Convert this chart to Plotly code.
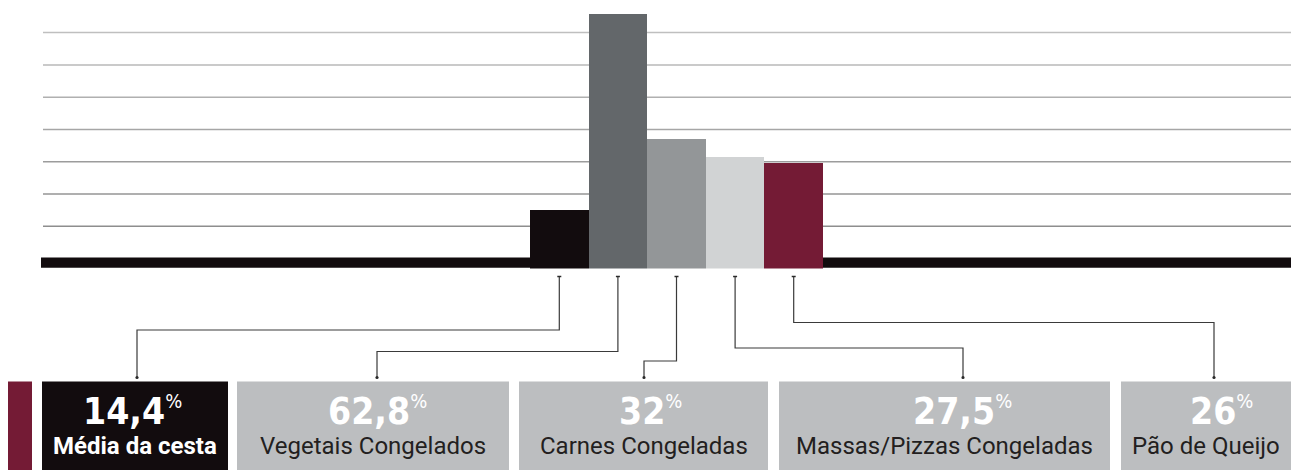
import plotly.graph_objects as go

# ---------------- data ----------------
categories = ["Média da cesta", "Vegetais Congelados", "Carnes Congeladas",
              "Massas/Pizzas Congeladas", "Pão de Queijo"]
values = [14.4, 62.8, 32.0, 27.5, 26.0]
value_labels = ["14,4", "62,8", "32", "27,5", "26"]
bar_colors = ["#120c0e", "#63676a", "#939698", "#d1d3d4", "#741b35"]

# ---------------- layout constants (pixels) ----------------
W, H = 1291, 470


def px(x):
    return x / W


def py(y):
    return 1 - y / H


BAR_X0, BAR_X1 = 530, 823
ZERO_PY = 268.5
PX_PER_UNIT = 4.06
YMAX = ZERO_PY / PX_PER_UNIT
GRID_START, GRID_STEP, GRID_N = 10.4, 7.95, 7
GRID_COLORS = ["#8e8e8e", "#959595", "#9c9c9c", "#a6a6a6", "#b0b0b0", "#b8b8b8", "#bfbfbf"]

fig = go.Figure()
fig.add_trace(go.Bar(
    x=categories, y=values, marker=dict(color=bar_colors, line=dict(width=0)),
    width=1.0, hoverinfo="skip", showlegend=False,
))

shapes = []
# gridlines
for i in range(GRID_N):
    yv = GRID_START + i * GRID_STEP
    shapes.append(dict(type="line", xref="paper", yref="y", x0=px(43), x1=1, y0=yv, y1=yv,
                       line=dict(color=GRID_COLORS[i], width=1.5), layer="below"))
# thick baseline
shapes.append(dict(type="rect", xref="paper", yref="y", x0=px(41), x1=1,
                   y0=(ZERO_PY - 267.8) / PX_PER_UNIT, y1=(ZERO_PY - 257.5) / PX_PER_UNIT,
                   fillcolor="#120c0e", line=dict(width=0), layer="below"))

# connectors: bar center -> horizontal level -> target x on box
BW = (BAR_X1 - BAR_X0) / len(categories)
conn_levels = [330, 351.5, 361, 348, 322.5]
conn_targets = [137, 377, 644, 963, 1214]
CONN_TOP, CONN_BOTTOM = 276.5, 377.5
for i in range(len(categories)):
    cx = BAR_X0 + (i + 0.5) * BW
    lv = conn_levels[i]
    tx = conn_targets[i]
    path = (f"M {px(cx)} {py(CONN_TOP)} L {px(cx)} {py(lv)} "
            f"L {px(tx)} {py(lv)} L {px(tx)} {py(CONN_BOTTOM)}")
    shapes.append(dict(type="path", xref="paper", yref="paper", path=path,
                       line=dict(color="#3a3a3a", width=1.2)))
    # small top tick
    shapes.append(dict(type="line", xref="paper", yref="paper",
                       x0=px(cx - 2), x1=px(cx + 2), y0=py(CONN_TOP), y1=py(CONN_TOP),
                       line=dict(color="#2a2a2a", width=1.5)))
    # small dot at the bottom
    shapes.append(dict(type="circle", xref="paper", yref="paper",
                       x0=px(tx - 1.6), x1=px(tx + 1.6), y0=py(CONN_BOTTOM - 1.6),
                       y1=py(CONN_BOTTOM + 1.6), fillcolor="#2a2a2a", line=dict(width=0)))

# label boxes
BOX_TOP = 381.5
box_edges = [(42, 228), (237, 509), (519, 768), (779, 1110), (1121, 1291)]
box_fill = ["#120c0e", "#bcbec0", "#bcbec0", "#bcbec0", "#bcbec0"]
label_color = ["#ffffff", "#231f20", "#231f20", "#231f20", "#231f20"]
label_weight = ["bold", "normal", "normal", "normal", "normal"]
num_centers = [132, 377, 650, 962, 1221]

# maroon accent strip
shapes.append(dict(type="rect", xref="paper", yref="paper", x0=px(8), x1=px(32),
                   y0=0, y1=py(BOX_TOP), fillcolor="#741b35", line=dict(width=0)))

annotations = []
for i, (x0, x1) in enumerate(box_edges):
    shapes.append(dict(type="rect", xref="paper", yref="paper", x0=px(x0), x1=px(x1),
                       y0=0, y1=py(BOX_TOP), fillcolor=box_fill[i], line=dict(width=0)))
    annotations.append(dict(
        xref="paper", yref="paper", x=px(num_centers[i]), y=py(411), xanchor="center",
        yanchor="middle", showarrow=False,
        text=f"<b>{value_labels[i]}</b><sup><span style='font-size:20px'>%</span></sup>",
        font=dict(family="Liberation Sans Narrow, DejaVu Sans Condensed, sans-serif",
                  size=37, color="#ffffff")))
    lab = f"<b>{categories[i]}</b>" if label_weight[i] == "bold" else categories[i]
    annotations.append(dict(
        xref="paper", yref="paper", x=px((x0 + x1) / 2), y=py(446), xanchor="center",
        yanchor="middle", showarrow=False, text=lab,
        font=dict(family="Roboto, sans-serif", size=24, color=label_color[i])))

fig.update_layout(
    width=W, height=H, margin=dict(l=0, r=0, t=0, b=0),
    paper_bgcolor="white", plot_bgcolor="rgba(0,0,0,0)",
    bargap=0, shapes=shapes, annotations=annotations,
    xaxis=dict(domain=[px(BAR_X0), px(BAR_X1)], visible=False, type="category",
               range=[-0.5, len(categories) - 0.5], fixedrange=True),
    yaxis=dict(domain=[py(ZERO_PY), 1], range=[0, YMAX], visible=False, fixedrange=True),
)

fig.write_html("out.html")
